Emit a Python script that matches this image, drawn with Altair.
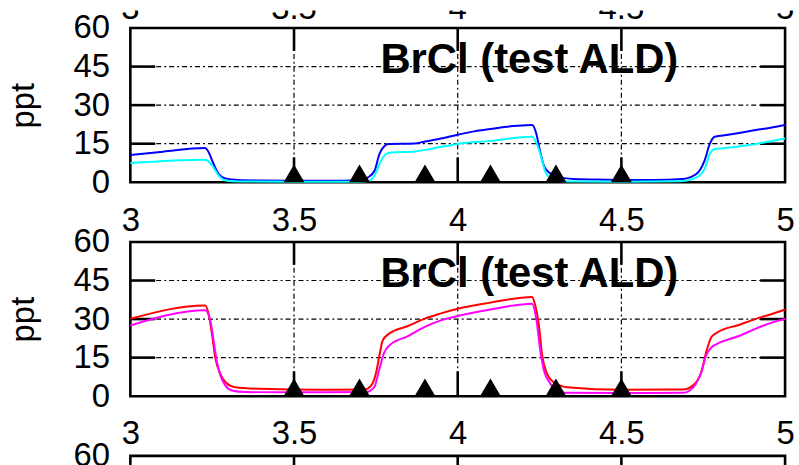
import altair as alt
import pandas as pd

# ---- axis values, reference lines and labels ----
x_ticks = [3, 3.5, 4, 4.5, 5]
y_ticks = [0, 15, 30, 45, 60]
grid_x = [3.5, 4, 4.5]
grid_y = [15, 30, 45]
ald_pulses = [3.5, 3.7, 3.9, 4.1, 4.3, 4.5]
panel_title = "BrCl (test ALD)"

# ---- BrCl series, upper panel ----
blue_x = [3.00, 3.10, 3.227, 3.24, 3.25, 3.26, 3.27, 3.29, 3.33, 3.40, 3.50, 3.60, 3.70,
          3.726, 3.746, 3.761, 3.777, 3.787, 3.868, 3.898, 3.949, 4.00, 4.05, 4.10, 4.15,
          4.20, 4.227, 4.24, 4.25, 4.263, 4.278, 4.303, 4.354, 4.45, 4.506, 4.60, 4.688,
          4.729, 4.754, 4.770, 4.785, 4.81, 4.86, 4.91, 4.96, 5.00]
blue_v = [10.6, 11.9, 13.3, 11.5, 8.4, 5.5, 3.2, 1.5, 0.9, 0.7, 0.6, 0.6, 0.8,
          1.9, 4.5, 11.0, 14.2, 14.9, 15.1, 15.8, 17.0, 18.5, 19.8, 20.7, 21.6,
          22.1, 22.3, 19.0, 13.0, 6.5, 3.9, 2.3, 1.3, 1.0, 0.9, 0.9, 1.3,
          3.2, 8.4, 14.9, 17.7, 18.2, 19.2, 20.3, 21.3, 22.3]

cyan_x = [3.00, 3.227, 3.24, 3.25, 3.27, 3.29, 3.33, 3.50, 3.70, 3.73, 3.746, 3.766,
          3.781, 3.797, 3.868, 3.898, 3.949, 4.00, 4.10, 4.227, 4.243, 4.258, 4.268,
          4.28, 4.30, 4.35, 4.50, 4.68, 4.72, 4.754, 4.770, 4.785, 4.81, 4.91, 5.00]
cyan_v = [7.5, 8.8, 8.0, 6.5, 2.6, 0.7, 0.3, 0.2, 0.2, 0.6, 2.6, 8.4,
          11.0, 11.6, 12.0, 12.5, 13.8, 14.9, 16.1, 17.7, 14.5, 8.4, 3.9,
          1.9, 0.6, 0.3, 0.2, 0.4, 1.3, 5.2, 11.0, 12.9, 13.2, 14.9, 17.0]

# ---- BrCl series, lower panel ----
red_x = [3.00, 3.229, 3.240, 3.25, 3.26, 3.275, 3.29, 3.32, 3.392, 3.594, 3.716, 3.736,
         3.751, 3.761, 3.771, 3.787, 3.848, 3.898, 3.949, 4.00, 4.10, 4.227, 4.237,
         4.248, 4.258, 4.273, 4.293, 4.334, 4.506, 4.688, 4.719, 4.744, 4.759, 4.775,
         4.79, 4.861, 4.911, 4.962, 5.00]
red_v = [30.1, 35.3, 31.4, 23.6, 14.6, 8.7, 5.5, 3.5, 2.9, 2.5, 2.6, 4.2,
         9.3, 15.9, 21.7, 24.0, 27.3, 30.1, 32.2, 34.0, 36.4, 38.6, 35.3,
         27.5, 15.9, 8.7, 5.5, 3.5, 2.5, 2.6, 4.2, 9.3, 17.1, 23.0,
         24.6, 27.8, 30.1, 32.1, 33.7]

magenta_x = [3.00, 3.229, 3.245, 3.255, 3.265, 3.275, 3.29, 3.31, 3.35, 3.50, 3.72, 3.745,
             3.761, 3.776, 3.792, 3.848, 3.898, 3.949, 4.00, 4.10, 4.227, 4.240, 4.253,
             4.265, 4.28, 4.293, 4.32, 4.50, 4.69, 4.72, 4.744, 4.759, 4.775, 4.79,
             4.861, 4.911, 4.962, 5.00]
magenta_v = [27.5, 33.4, 29.0, 21.0, 13.0, 8.1, 4.2, 2.2, 1.6, 1.5, 1.6, 3.5,
             10.7, 17.1, 19.8, 23.4, 26.9, 29.5, 31.2, 33.7, 36.0, 30.1, 17.1,
             9.3, 5.5, 2.9, 1.3, 1.2, 1.3, 3.5, 9.3, 15.9, 19.0, 20.2,
             23.5, 26.3, 28.7, 30.0]

W, H = 658, 155
FONT = "Liberation Sans"
LABEL_SIZE = 33
TICK_LEN = 25

x_scale = alt.Scale(domain=[3, 5], nice=False, zero=False)
y_scale = alt.Scale(domain=[0, 60], nice=False, zero=False)

x_axis = alt.Axis(values=x_ticks, format="~g", labelFont=FONT, labelFontSize=LABEL_SIZE,
                  labelColor="black", labelPadding=22, ticks=False, tickSize=0,
                  domain=False, grid=False, title=None, labelFlush=False,
                  labelOverlap=False)
y_axis = alt.Axis(values=y_ticks, labelFont=FONT, labelFontSize=LABEL_SIZE,
                  labelColor="black", labelPadding=21, ticks=False, tickSize=0,
                  domain=False, grid=False, title="ppt", titleFont=FONT,
                  titleFontSize=LABEL_SIZE, titleFontWeight="normal", titleColor="black",
                  titleAngle=-90, titleX=-90, titleY=H / 2, titleAlign="center",
                  titleBaseline="bottom", labelFlush=False, labelOverlap=False)


def X(field="x"):
    return alt.X(f"{field}:Q", scale=x_scale, axis=x_axis)


def Y(field="v"):
    return alt.Y(f"{field}:Q", scale=y_scale, axis=y_axis)


def frame_layers(show_top_labels=False):
    gx = pd.DataFrame({"x": grid_x})
    gy = pd.DataFrame({"v": grid_y})
    title_df = pd.DataFrame({"label": [panel_title]})

    title = alt.Chart(title_df).mark_text(
        font=FONT, fontSize=42, fontWeight="bold", color="black",
        align="center", baseline="middle"
    ).encode(x=alt.value(401), y=alt.value(32.5), text="label:N")

    dash = [5, 3, 2, 3]
    grid_v = alt.Chart(gx).mark_rule(color="black", strokeWidth=1.2, strokeDash=dash).encode(
        x=X(), y=alt.value(0), y2=alt.value(H))
    grid_h = alt.Chart(gy).mark_rule(color="black", strokeWidth=1.2, strokeDash=dash).encode(
        y=Y(), x=alt.value(0), x2=alt.value(W))

    tick_style = dict(color="black", strokeWidth=2.6)
    tick_l = alt.Chart(gy).mark_rule(**tick_style).encode(
        y=Y(), x=alt.value(0), x2=alt.value(TICK_LEN))
    tick_r = alt.Chart(gy).mark_rule(**tick_style).encode(
        y=Y(), x=alt.value(W - TICK_LEN), x2=alt.value(W))
    tick_b = alt.Chart(gx).mark_rule(**tick_style).encode(
        x=X(), y=alt.value(H), y2=alt.value(H - TICK_LEN))
    tick_t = alt.Chart(gx).mark_rule(**tick_style).encode(
        x=X(), y=alt.value(0), y2=alt.value(TICK_LEN - 2))

    layers = [title, grid_v, grid_h, tick_l, tick_r, tick_b, tick_t]
    if show_top_labels:
        # tick labels of the panel above; only their lower edge shows
        top_df = pd.DataFrame({"x": x_ticks, "lab": [f"{t:g}" for t in x_ticks]})
        top = alt.Chart(top_df).mark_text(
            font=FONT, fontSize=LABEL_SIZE, color="black", align="center",
            baseline="alphabetic"
        ).encode(x=X(), y=alt.value(-9), text="lab:N")
        mask = alt.Chart(pd.DataFrame({"m": [0]})).mark_rect(
            color="white", opacity=1
        ).encode(x=alt.value(-40), x2=alt.value(W + 12),
                 y=alt.value(-37), y2=alt.value(-17.5))
        layers += [top, mask]
    return layers


def data_layers(series):
    rows = []
    names, colors = [], []
    for name, color, xs, vs in series:
        names.append(name)
        colors.append(color)
        rows += [{"x": a, "v": b, "s": name} for a, b in zip(xs, vs)]
    df = pd.DataFrame(rows)
    lines = alt.Chart(df).mark_line(strokeWidth=2, interpolate="monotone").encode(
        x=X(), y=Y(),
        color=alt.Color("s:N", scale=alt.Scale(domain=names, range=colors), legend=None))
    pulses = alt.Chart(pd.DataFrame({"x": ald_pulses, "v": [0] * len(ald_pulses)})).mark_point(
        shape="M-1,0L0,-1.7L1,0Z", size=440, filled=True, color="black", opacity=1,
        strokeWidth=0
    ).encode(x=X(), y=Y())
    return [lines, pulses]


top_panel = alt.layer(
    *frame_layers(show_top_labels=True),
    *data_layers([("BrCl A", "#0000ff", blue_x, blue_v),
                  ("BrCl B", "#00ffff", cyan_x, cyan_v)])
).properties(width=W, height=H)

mid_panel = alt.layer(
    *frame_layers(),
    *data_layers([("BrCl C", "#ff0000", red_x, red_v),
                  ("BrCl D", "#ff00ff", magenta_x, magenta_v)])
).properties(width=W, height=H)

low_panel = alt.layer(*frame_layers()).properties(width=W, height=H)

chart = alt.vconcat(
    top_panel, mid_panel, low_panel, spacing=60, bounds="flush"
).resolve_scale(color="independent").properties(
    padding={"left": 6, "top": -12.5, "right": 0, "bottom": 0},
    background="white"
).configure_view(
    stroke="black", strokeWidth=2.6
)

chart.save("out.html", embed_options={"renderer": "svg", "actions": False})
